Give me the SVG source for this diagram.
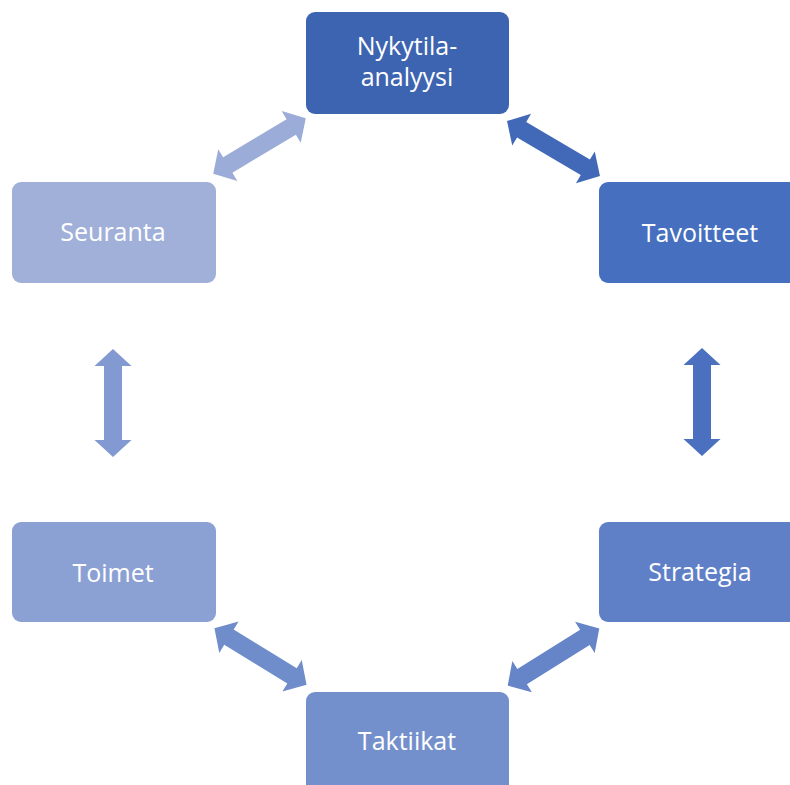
<svg xmlns="http://www.w3.org/2000/svg" xmlns:xlink="http://www.w3.org/1999/xlink" width="790" height="785" viewBox="0 0 790 785">
<defs>
<style>
.box{stroke:none}
.lbl{fill:#FFFFFF;font-family:"Open Sans","Liberation Sans",sans-serif;font-size:25px;text-anchor:middle}
</style>
<polygon id="dbl" points="-54,0 -37,-18.5 -37,-9 37,-9 37,-18.5 54,0 37,18.5 37,9 -37,9 -37,18.5"/>
</defs>
<rect width="790" height="785" fill="#FFFFFF"/>
<g id="connectors">
<use xlink:href="#dbl" href="#dbl" fill="#9CACD8" transform="translate(259.5,146) rotate(-31)"/>
<use xlink:href="#dbl" href="#dbl" fill="#4169B7" transform="translate(553.5,148.5) rotate(30.6)"/>
<use xlink:href="#dbl" href="#dbl" fill="#4B70BF" transform="translate(702,402) rotate(90)"/>
<use xlink:href="#dbl" href="#dbl" fill="#6585C8" transform="translate(553.5,657) rotate(-32)"/>
<use xlink:href="#dbl" href="#dbl" fill="#6F8CCB" transform="translate(260.5,656.5) rotate(31.5)"/>
<use xlink:href="#dbl" href="#dbl" fill="#8399D1" transform="translate(113,403) rotate(90)"/>
</g>
<g id="nykytila">
<rect class="box" x="306" y="12" width="203" height="102" rx="9" fill="#3D64B1"/>
<text class="lbl" x="407" y="55">Nykytila-</text>
<text class="lbl" x="407" y="86">analyysi</text>
</g>
<g id="tavoitteet">
<rect class="box" x="599" y="182" width="203" height="101" rx="9" fill="#4670BF"/>
<text class="lbl" x="700" y="242">Tavoitteet</text>
</g>
<g id="strategia">
<rect class="box" x="599" y="522" width="203" height="100" rx="9" fill="#5F80C7"/>
<text class="lbl" x="700" y="581">Strategia</text>
</g>
<g id="taktiikat">
<rect class="box" x="306" y="692" width="203" height="102" rx="9" fill="#7490CC"/>
<text class="lbl" x="407" y="750">Taktiikat</text>
</g>
<g id="toimet">
<rect class="box" x="12" y="522" width="204" height="100" rx="9" fill="#8CA1D3"/>
<text class="lbl" x="113" y="582">Toimet</text>
</g>
<g id="seuranta">
<rect class="box" x="12" y="182" width="204" height="101" rx="9" fill="#A1B0D9"/>
<text class="lbl" x="113" y="241">Seuranta</text>
</g>
</svg>
